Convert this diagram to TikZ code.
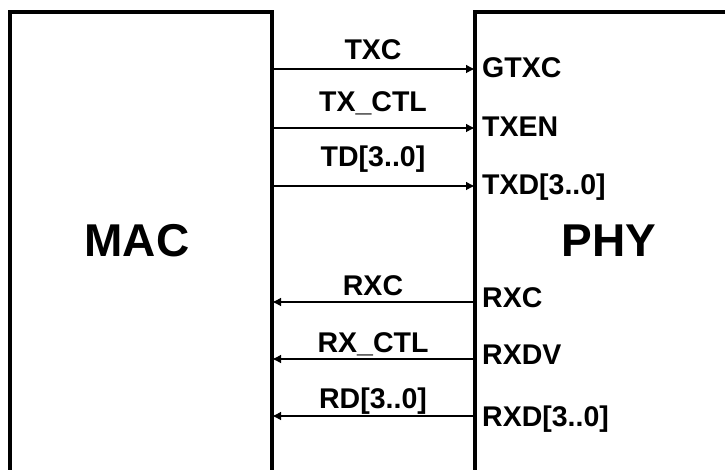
\documentclass[tikz,border=0pt]{standalone}
\usepackage{fontspec}
\setmainfont{Liberation Sans}
\usetikzlibrary{arrows.meta}

\tikzset{
  blk/.style={line width=4pt, line cap=rect},
  sig/.style={line width=2pt, -{Latex[length=9pt,width=9pt]}},
  lbl/.style={font=\bfseries\fontsize{28.5}{31}\selectfont, inner sep=0pt, anchor=base},
  big/.style={font=\bfseries\fontsize{46}{50}\selectfont, inner sep=0pt, anchor=base}
}

\begin{document}
\begin{tikzpicture}[x=1pt, y=-1pt]
    \useasboundingbox (0,0) rectangle (725,470);

    % Bloques MAC y PHY (siguen por debajo del borde)
    \draw[blk] (10,470) -- (10,12) -- (272,12) -- (272,470);
    \draw[blk] (475,470) -- (475,12) -- (725,12);
    \node[big] (mac) at (137,257) {MAC};
    \node[big] (phy) at (609,257) {PHY};

    % Puntos de conexion en los bordes
    \coordinate (m1) at (272,69);  \coordinate (p1) at (475,69);
    \coordinate (m2) at (272,128); \coordinate (p2) at (475,128);
    \coordinate (m3) at (272,186); \coordinate (p3) at (475,186);
    \coordinate (m4) at (272,302); \coordinate (p4) at (475,302);
    \coordinate (m5) at (272,359); \coordinate (p5) at (475,359);
    \coordinate (m6) at (272,416); \coordinate (p6) at (475,416);

    % Transmision: MAC -> PHY
    \draw[sig] (m1) -- (p1);
    \draw[sig] (m2) -- (p2);
    \draw[sig] (m3) -- (p3);
    \node[lbl] (txc) at (373,60) {TXC};
    \node[lbl] (txctl) at (373,112) {TX\_CTL};
    \node[lbl] (td) at (373,167) {TD[3..0]};

    % Recepcion: PHY -> MAC
    \draw[sig] (p4) -- (m4);
    \draw[sig] (p5) -- (m5);
    \draw[sig] (p6) -- (m6);
    \node[lbl] (rxc) at (373,295) {RXC};
    \node[lbl] (rxctl) at (373,352) {RX\_CTL};
    \node[lbl] (rd) at (373,408) {RD[3..0]};

    % Pines del PHY
    \node[lbl, anchor=base west] (gtxc) at (482,78) {GTXC};
    \node[lbl, anchor=base west] (txen) at (482,137) {TXEN};
    \node[lbl, anchor=base west] (txd) at (482,195) {TXD[3..0]};
    \node[lbl, anchor=base west] (prxc) at (482,307) {RXC};
    \node[lbl, anchor=base west] (rxdv) at (482,364) {RXDV};
    \node[lbl, anchor=base west] (rxd) at (482,426) {RXD[3..0]};
\end{tikzpicture}
\end{document}
